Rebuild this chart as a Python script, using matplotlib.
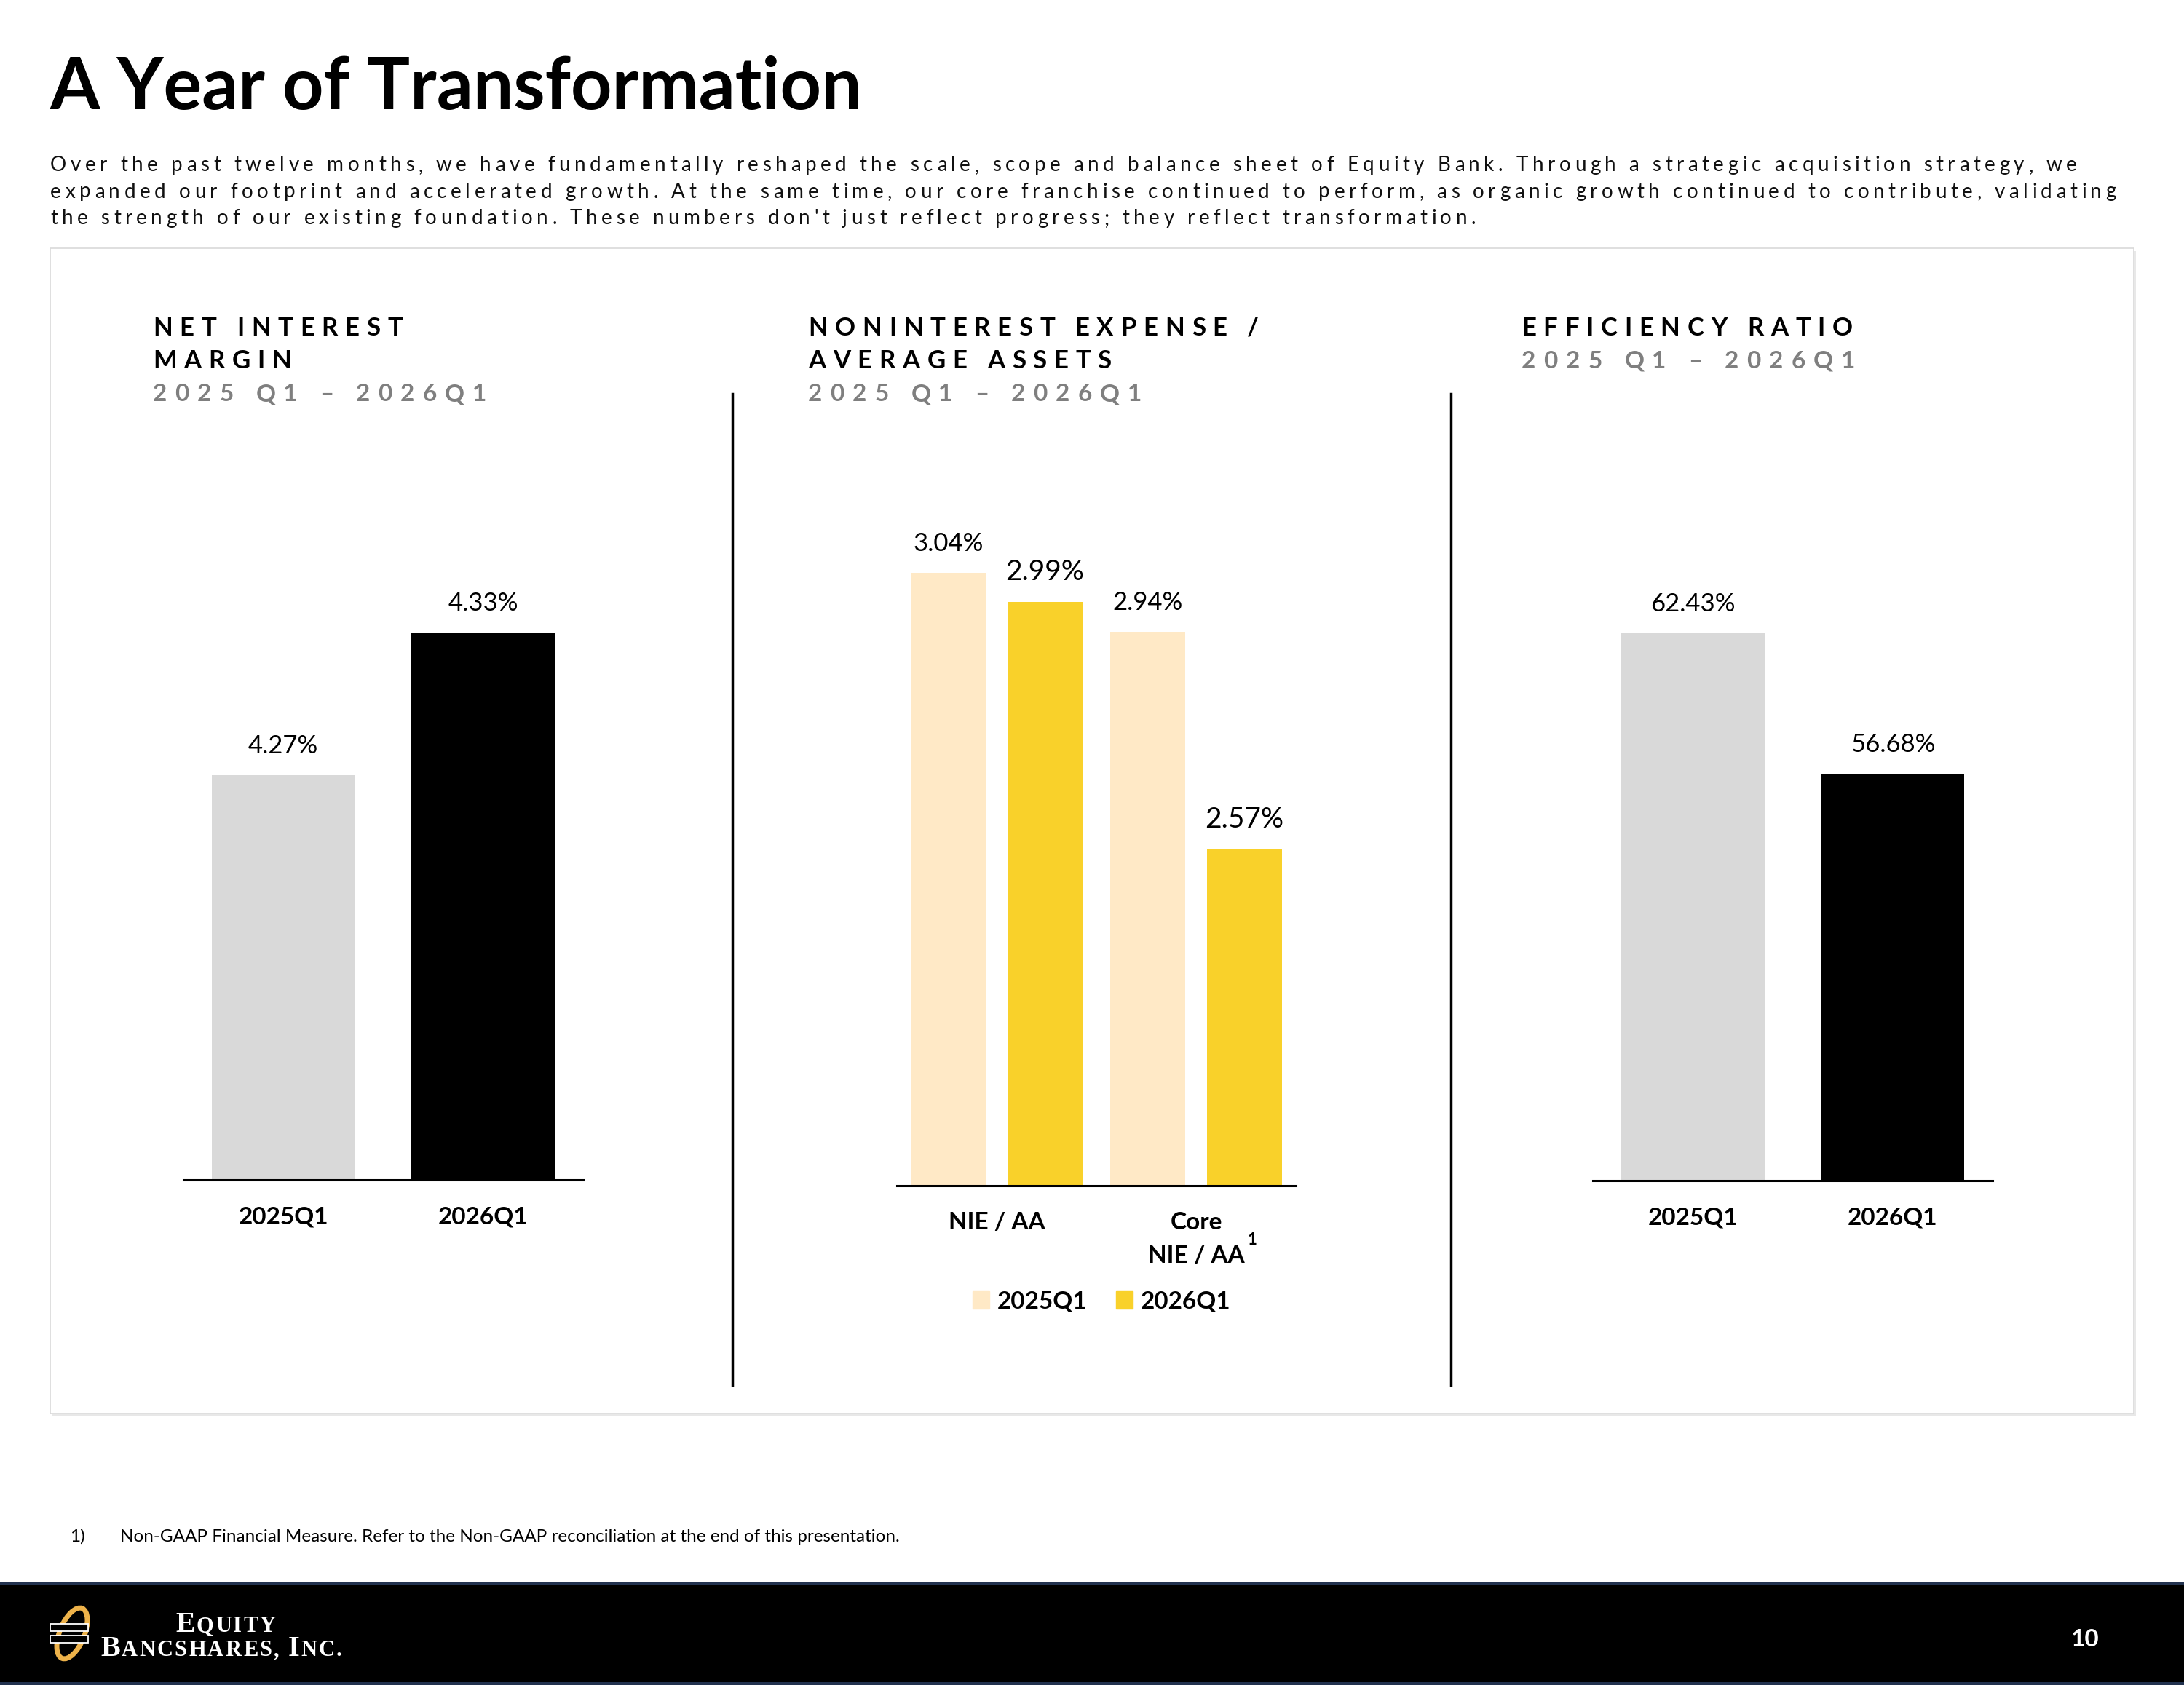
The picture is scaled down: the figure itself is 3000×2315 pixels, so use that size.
import matplotlib
matplotlib.use('Agg')
import matplotlib.pyplot as plt
from matplotlib import font_manager
from matplotlib.ft2font import FT2Font
from matplotlib.patches import Rectangle, Ellipse, Patch

W, H = 3000, 2315
DPI = 100
FONT = 'Lato'
plt.rcParams['font.family'] = FONT

# ---- data ----
nim_labels = ['2025Q1', '2026Q1']
nim_values = [4.27, 4.33]

nie_groups = ['NIE / AA', 'Core']
nie_2025 = [3.04, 2.94]
nie_2026 = [2.99, 2.57]
legend_labels = ['2025Q1', '2026Q1']

eff_labels = ['2025Q1', '2026Q1']
eff_values = [62.43, 56.68]

title = 'A Year of Transformation'
intro_lines = [
    "Over the past twelve months, we have fundamentally reshaped the scale, scope and balance sheet of Equity Bank. Through a strategic acquisition strategy, we",
    "expanded our footprint and accelerated growth. At the same time, our core franchise continued to perform, as organic growth continued to contribute, validating",
    "the strength of our existing foundation. These numbers don't just reflect progress; they reflect transformation.",
]
headers = [
    ['NET INTEREST', 'MARGIN'],
    ['NONINTEREST EXPENSE /', 'AVERAGE ASSETS'],
    ['EFFICIENCY RATIO'],
]
period = '2025 Q1 \u2013 2026Q1'
footnote = 'Non-GAAP Financial Measure. Refer to the Non-GAAP reconciliation at the end of this presentation.'

GREY_BAR = '#D9D9D9'
CREAM = '#FFE9C6'
YELLOW = '#F9D12A'
SUB_GREY = '#7F7F7F'

fig = plt.figure(figsize=(W / DPI, H / DPI), dpi=DPI)
page = fig.add_axes([0, 0, 1, 1])
page.set_xlim(0, W)
page.set_ylim(H, 0)
page.axis('off')

_fonts = {}


def advances(s, size, weight='normal', family=FONT):
    key = (family, weight)
    if key not in _fonts:
        path = font_manager.findfont(font_manager.FontProperties(family=family, weight=weight))
        _fonts[key] = FT2Font(path, hinting_factor=1)
    f = _fonts[key]
    f.set_size(size, DPI)
    return [f.load_char(ord(c)).linearHoriAdvance / 65536.0 for c in s]


def spacing_for(s, target, size, weight='normal', family=FONT):
    adv = advances(s, size, weight, family)
    return (target - sum(adv)) / (len(s) - 1)


def spaced_text(x, y, s, size, spacing=0.0, weight='normal', color='black', family=FONT):
    # draws letter-spaced text, pixel coords, y is the baseline
    pos = x
    for c, a in zip(s, advances(s, size, weight, family)):
        if c != ' ':
            page.text(pos, y, c, fontsize=size, fontweight=weight, color=color,
                      family=family, ha='left', va='baseline')
        pos += a + spacing


# ---- page frame ----
page.add_patch(Rectangle((72, 345), 2862, 1601, facecolor='#E8E8E8', edgecolor='none', zorder=0))
page.add_patch(Rectangle((69, 341), 2862, 1601, facecolor='white', edgecolor='#D9D9D9', lw=1.2, zorder=1))

page.text(69, 150, title, fontsize=71, fontweight='bold', ha='left', va='baseline')

sp = spacing_for(intro_lines[1], 2838, 20)
for i, line in enumerate(intro_lines):
    spaced_text(69, 235 + i * 36.5, line, 20, sp, color='#111111')

# panel headers
hsp = spacing_for('NET INTEREST', 343, 25, 'bold')
psp = spacing_for(period, 458, 24, 'bold')
for x0, lines in zip([210, 1110, 2090], headers):
    for j, line in enumerate(lines):
        spaced_text(x0, 461 + j * 45, line, 25, hsp, weight='bold')
    spaced_text(x0, 461 + len(lines) * 45, period, 24, psp, weight='bold', color=SUB_GREY)

# dividers
for xd in [1006, 1993]:
    page.plot([xd, xd], [541, 1903], color='black', lw=2.5, zorder=2)

# footnote
page.text(96, 2118, '1)', fontsize=17.5, ha='left', va='baseline')
page.text(165, 2118, footnote, fontsize=17.5, ha='left', va='baseline')

# footer band
page.add_patch(Rectangle((0, 2176), W, H - 2176, facecolor='black', edgecolor='none', zorder=1))
page.add_patch(Rectangle((0, 2174), W, 4, facecolor='#22324F', edgecolor='none', zorder=2))
page.add_patch(Rectangle((0, 2311), W, 4, facecolor='#22324F', edgecolor='none', zorder=2))
page.text(2864, 2262, '10', fontsize=24, fontweight='bold', color='white', ha='center', va='baseline')

# logo emblem
page.add_patch(Ellipse((99, 2244), 34, 74, angle=22, fill=False, edgecolor='#EDB24A', lw=5, zorder=3))
for yb in [2231, 2247]:
    page.add_patch(Rectangle((69, yb), 52, 10, facecolor='black', edgecolor='white', lw=1.3, zorder=4))


def small_caps(x, y, pieces, spacing=2.0):
    pos = x
    for txt, size in pieces:
        for c, a in zip(txt, advances(txt, size, 'bold', 'Liberation Serif')):
            if c != ' ':
                page.text(pos, y, c, fontsize=size, fontweight='bold', color='white',
                          family='Liberation Serif', ha='left', va='baseline', zorder=5)
            pos += a + spacing


small_caps(241, 2242, [('E', 29), ('QUITY', 22)])
small_caps(138, 2275, [('B', 29), ('ANCSHARES, ', 22), ('I', 29), ('NC.', 22)])


# ---- charts ----
def make_axes(x0, x1, y_top, y_base, ylim):
    ax = fig.add_axes([x0 / W, 1 - y_base / H, (x1 - x0) / W, (y_base - y_top) / H])
    ax.patch.set_alpha(0)
    for s in ['top', 'right', 'left']:
        ax.spines[s].set_visible(False)
    ax.spines['bottom'].set_linewidth(2.2)
    ax.spines['bottom'].set_color('black')
    ax.set_xticks([])
    ax.set_yticks([])
    ax.set_xlim(-0.5, 1.5)
    ax.set_ylim(*ylim)
    return ax


def value_label(ax, x, v, size=25):
    ax.annotate(f'{v:.2f}%', xy=(x, v), xytext=(0, 21.6), textcoords='offset points',
                ha='center', va='baseline', fontsize=size)


def cat_label(ax, x, txt, dy=-43.5):
    ax.annotate(txt, xy=(x, 0), xycoords=('data', 'axes fraction'), xytext=(0, dy),
                textcoords='offset points', ha='center', va='baseline',
                fontsize=24, fontweight='bold')


# panel 1: net interest margin
ax1 = make_axes(252, 801, 621, 1621, (4.10, 4.406))
ax1.bar(range(len(nim_values)), nim_values, width=0.716, color=[GREY_BAR, 'black'])
for i, v in enumerate(nim_values):
    value_label(ax1, i, v)
    cat_label(ax1, i, nim_labels[i])

# panel 2: noninterest expense / average assets
ax2 = make_axes(1232, 1780, 629, 1629, (2.0, 3.235))
xs = range(len(nie_groups))
ax2.bar([x - 0.241 for x in xs], nie_2025, width=0.376, color=CREAM)
ax2.bar([x + 0.241 for x in xs], nie_2026, width=0.376, color=YELLOW)
for i in xs:
    value_label(ax2, i - 0.241, nie_2025[i])
    value_label(ax2, i + 0.241, nie_2026[i], size=28)
    cat_label(ax2, i, nie_groups[i])
cat_label(ax2, 1, 'NIE / AA', dy=-76.5)
ax2.annotate('1', xy=(1, 0), xycoords=('data', 'axes fraction'), xytext=(55.4, -58),
             textcoords='offset points', ha='center', va='baseline', fontsize=16, fontweight='bold')
ax2.legend(handles=[Patch(color=CREAM, label=legend_labels[0]), Patch(color=YELLOW, label=legend_labels[1])],
           loc='center', bbox_to_anchor=(0.513, -0.159), ncol=2, frameon=False,
           prop={'family': FONT, 'weight': 'bold', 'size': 24},
           handlelength=0.7, handleheight=0.7, handletextpad=0.3, columnspacing=1.2)

# panel 3: efficiency ratio
ax3 = make_axes(2188, 2737, 622, 1622, (40, 69.82))
ax3.bar(range(len(eff_values)), eff_values, width=0.716, color=[GREY_BAR, 'black'])
for i, v in enumerate(eff_values):
    value_label(ax3, i, v)
    cat_label(ax3, i, eff_labels[i])

fig.savefig('out.png', dpi=DPI)
